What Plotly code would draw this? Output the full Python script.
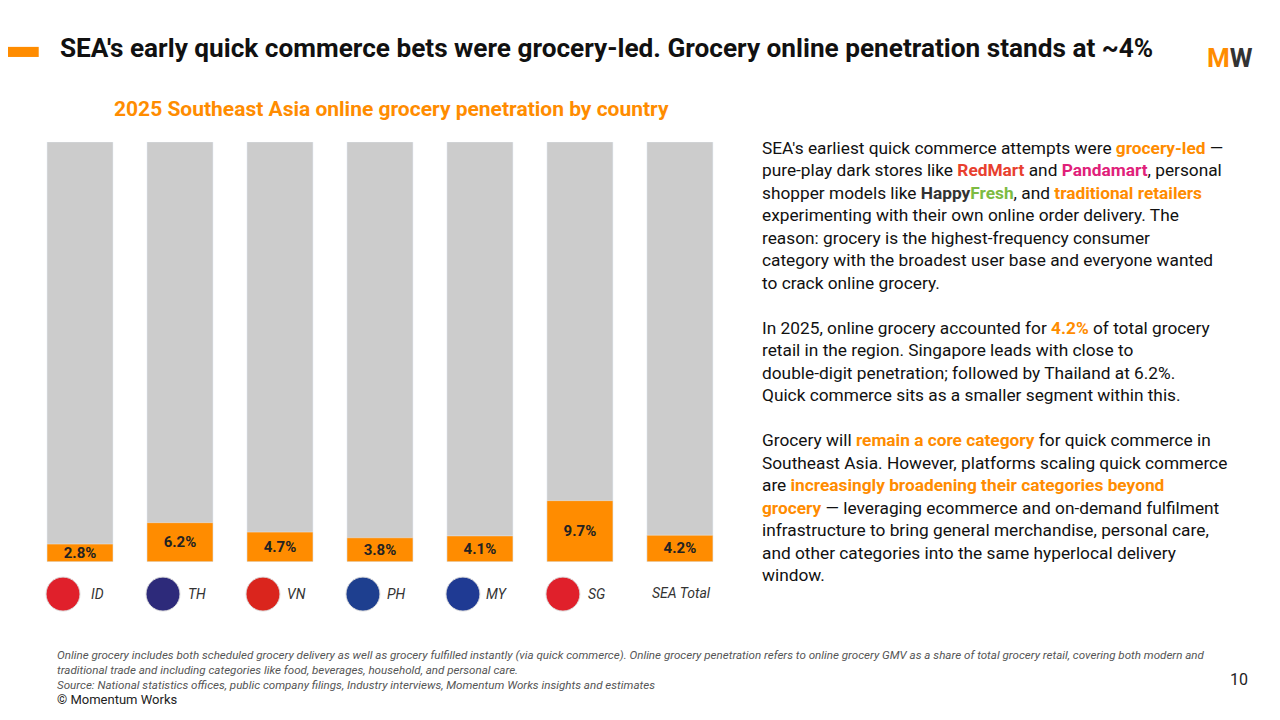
import plotly.graph_objects as go

countries = ["ID", "TH", "VN", "PH", "MY", "SG", "SEA Total"]
penetration = [2.8, 6.2, 4.7, 3.8, 4.1, 9.7, 4.2]
full = [100] * len(countries)
flag_colors = ["#E0202B", "#2D2A7A", "#DA251D", "#1E3F8F", "#1F3A93", "#E0202B", None]
xs = list(range(len(countries)))

ORANGE = "#FF8C00"
fig = go.Figure()
fig.add_bar(x=xs, y=full, marker_color="#CCCCCC", width=0.66, hoverinfo="skip")
fig.add_bar(x=xs, y=penetration, yaxis="y2", marker_color=ORANGE, width=0.66,
            text=[f"{v}%" for v in penetration], textposition="inside",
            insidetextanchor="middle", textangle=0, constraintext="none",
            textfont=dict(family="Roboto", size=15, color="#222", weight="bold"))

fig.update_layout(
    width=1280, height=720, paper_bgcolor="white", plot_bgcolor="white",
    showlegend=False, barmode="overlay", margin=dict(l=0, r=0, t=0, b=0),
    xaxis=dict(domain=[0.0172, 0.564], range=[-0.5, 6.5], showticklabels=False,
               showgrid=False, zeroline=False),
    yaxis=dict(domain=[0.231, 0.814], range=[0, 100], visible=False),
    yaxis2=dict(domain=[0.231, 0.814], range=[0, 66.7], overlaying="y", visible=False),
    yaxis3=dict(domain=[0.15, 0.222], range=[-1, 1], anchor="x", visible=False),
    font=dict(family="Roboto", color="#222"),
)

for i, (c, col) in enumerate(zip(countries, flag_colors)):
    if col:
        fig.add_trace(go.Scatter(x=[i - 0.17], y=[0], yaxis="y3", mode="markers",
                                 marker=dict(size=34, color=col, line=dict(color="#ddd", width=1)),
                                 hoverinfo="skip"))
        fig.add_annotation(x=i + 0.17, y=0, yref="y3", text=f"<i>{c}</i>", showarrow=False,
                           font=dict(size=14, color="#333"))
    else:
        fig.add_annotation(x=i + 0.02, y=0.05, yref="y3", text=f"<i>{c}</i>", showarrow=False,
                           font=dict(size=14, color="#333"))

fig.add_shape(type="rect", xref="paper", yref="paper", x0=0, x1=0.024, y0=0.932, y1=0.946,
              fillcolor=ORANGE, line_width=0)
fig.add_annotation(xref="paper", yref="paper", x=0.039, y=0.944, xanchor="left", yanchor="middle",
                   text="<b>SEA's early quick commerce bets were grocery-led. Grocery online penetration stands at ~4%</b>",
                   showarrow=False, font=dict(size=26.2, color="#111"))
fig.add_annotation(xref="paper", yref="paper", x=0.955, y=0.93, xanchor="center", yanchor="middle",
                   text="<b><span style='color:#FF8C00'>M</span><span style='color:#333'>W</span></b>",
                   showarrow=False, font=dict(size=26))
fig.add_annotation(xref="paper", yref="paper", x=0.081, y=0.86, xanchor="left", yanchor="middle",
                   text="<b>2025 Southeast Asia online grocery penetration by country</b>",
                   showarrow=False, font=dict(size=21, color=ORANGE))

O = "<b><span style='color:#FF8C00'>%s</span></b>"
body = (
    "SEA's earliest quick commerce attempts were " + O % "grocery-led" + " —<br>"
    "pure-play dark stores like <b><span style='color:#E8402F'>RedMart</span></b> and "
    "<b><span style='color:#E0217A'>Pandamart</span></b>, personal<br>"
    "shopper models like <b><span style='color:#333'>Happy</span><span style='color:#7DBB42'>Fresh</span></b>, and "
    + O % "traditional retailers" + "<br>"
    "experimenting with their own online order delivery. The<br>"
    "reason: grocery is the highest-frequency consumer<br>"
    "category with the broadest user base and everyone wanted<br>"
    "to crack online grocery.<br><br>"
    "In 2025, online grocery accounted for " + O % "4.2%" + " of total grocery<br>"
    "retail in the region. Singapore leads with close to<br>"
    "double-digit penetration; followed by Thailand at 6.2%.<br>"
    "Quick commerce sits as a smaller segment within this.<br><br>"
    "Grocery will " + O % "remain a core category" + " for quick commerce in<br>"
    "Southeast Asia. However, platforms scaling quick commerce<br>"
    "are " + O % "increasingly broadening their categories beyond" + "<br>"
    + O % "grocery" + " — leveraging ecommerce and on-demand fulfilment<br>"
    "infrastructure to bring general merchandise, personal care,<br>"
    "and other categories into the same hyperlocal delivery<br>"
    "window."
)
fig.add_annotation(xref="paper", yref="paper", x=0.5875, y=0.822, xanchor="left", yanchor="top",
                   text=body, align="left", showarrow=False,
                   font=dict(size=17.3, color="#111"))

foot = ("<i>Online grocery includes both scheduled grocery delivery as well as grocery fulfilled instantly (via quick commerce). "
        "Online grocery penetration refers to online grocery GMV as a share of total grocery retail, covering both modern and<br>"
        "traditional trade and including categories like food, beverages, household, and personal care.<br>"
        "Source: National statistics offices, public company filings, Industry interviews, Momentum Works insights and estimates</i>")
fig.add_annotation(xref="paper", yref="paper", x=0.037, y=0.114, xanchor="left", yanchor="top",
                   text=foot, align="left", showarrow=False, font=dict(size=11.6, color="#555"))
fig.add_annotation(xref="paper", yref="paper", x=0.037, y=0.039, xanchor="left", yanchor="middle",
                   text="© Momentum Works", showarrow=False, font=dict(size=13, color="#222"))
fig.add_annotation(xref="paper", yref="paper", x=0.97, y=0.068, xanchor="right", yanchor="middle",
                   text="10", showarrow=False, font=dict(size=16, color="#222"))

fig.write_html("out.html")
